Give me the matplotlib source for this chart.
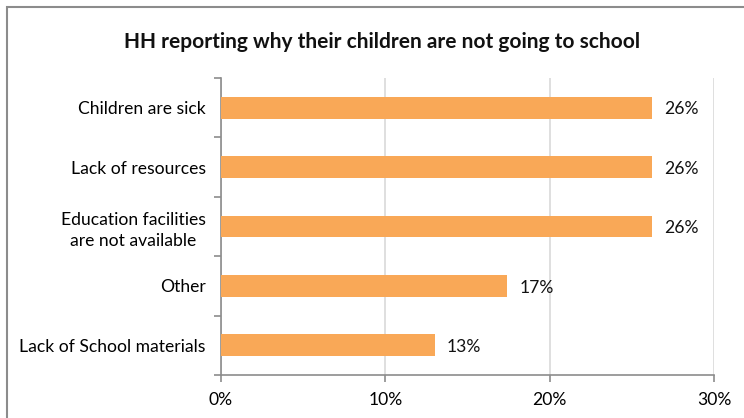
import matplotlib
matplotlib.use("Agg")
import matplotlib.pyplot as plt
from matplotlib.patches import Rectangle
from matplotlib.ticker import FixedLocator, NullFormatter

plt.rcParams["font.family"] = ["Lato", "DejaVu Sans"]

# survey shares (%), top to bottom
reasons = ["Children are sick", "Lack of resources",
           "Education facilities\nare not available", "Other",
           "Lack of School materials"]
shares = [26.2, 26.2, 26.2, 17.4, 13.0]
xticks = [0, 10, 20, 30]

BAR = "#F9A857"
AXIS = "#8C8C8C"
GRID = "#D9D9D9"
FS = 12.6

fig = plt.figure(figsize=(7.44, 4.18), dpi=100)
ax = fig.add_axes([221 / 744, 1 - 375 / 418, (714 - 221) / 744, (375 - 78) / 418])

ypos = list(range(len(reasons)))[::-1]
ax.barh(ypos, shares, height=0.37, color=BAR, zorder=3)
for y, v in zip(ypos, shares):
    ax.text(v + 0.75, y - 0.03, f"{v:.0f}%", va="center", ha="left", fontsize=FS, color="#111111")

ax.set_xlim(0, 30)
ax.set_ylim(-0.5, len(reasons) - 0.5)
ax.set_xticks(xticks)
ax.set_xticklabels([f"{t}%" for t in xticks], fontsize=FS)
ax.set_yticks(ypos)
ax.set_yticklabels(reasons, fontsize=FS, multialignment="center", linespacing=1.35)
ax.tick_params(axis="y", length=0, pad=11)
ax.tick_params(axis="x", length=5, color=AXIS, width=1.2, pad=7)
# category boundary ticks on the value axis
ax.yaxis.set_minor_locator(FixedLocator([i - 0.5 for i in range(len(reasons) + 1)]))
ax.yaxis.set_minor_formatter(NullFormatter())
ax.tick_params(axis="y", which="minor", length=5, color=AXIS, width=1.2)

ax.grid(axis="x", color=GRID, linewidth=1.2, zorder=0)
for s in ["top", "right"]:
    ax.spines[s].set_visible(False)
for s in ["left", "bottom"]:
    ax.spines[s].set_color(AXIS)
    ax.spines[s].set_linewidth(1.2)

fig.text(382 / 744, 1 - 42 / 418, "HH reporting why their children are not going to school",
         ha="center", va="center", fontsize=15, fontweight="bold", color="#111111")

# chart frame
fig.patches.append(Rectangle((7 / 744, -0.05), 1.1, 1 - 7 / 418 + 0.05, transform=fig.transFigure,
                             fill=False, edgecolor="#8C8C8C", linewidth=1.5))

fig.savefig("out.png", dpi=100)
